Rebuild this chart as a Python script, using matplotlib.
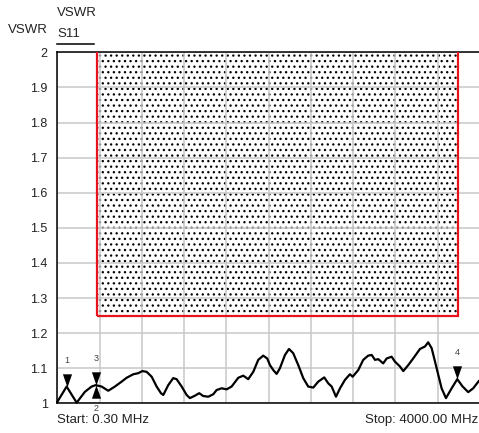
import numpy as np
import matplotlib
matplotlib.use("Agg")
import matplotlib.pyplot as plt
from matplotlib.patches import Rectangle
from matplotlib.transforms import offset_copy

plt.rcParams['font.family'] = ['Liberation Sans', 'DejaVu Sans']
plt.rcParams['hatch.linewidth'] = 0.9

# sweep, MHz
f_start = 0.3
f_stop = 4000.0

# S11 VSWR trace
freq = [0.3, 87, 182, 260, 324, 362, 418, 481, 544, 608, 655, 718, 765, 803,
        844, 892, 939, 980, 1002, 1049, 1096, 1128, 1176, 1223, 1254, 1302,
        1342, 1380, 1428, 1475, 1507, 1554, 1602, 1649, 1712, 1759, 1806,
        1854, 1901, 1948, 1986, 2012, 2043, 2075, 2106, 2154, 2192, 2232,
        2280, 2327, 2374, 2422, 2469, 2526, 2564, 2596, 2637, 2675, 2722,
        2769, 2795, 2848, 2895, 2942, 2975, 3006, 3037, 3084, 3117, 3164,
        3195, 3243, 3274, 3321, 3368, 3432, 3479, 3510, 3543, 3590, 3637,
        3678, 3732, 3785, 3836, 3889, 3936, 3990, 4000]
vswr = [1.005, 1.048, 1.002, 1.033, 1.048, 1.052, 1.048, 1.036, 1.048, 1.062,
        1.073, 1.083, 1.086, 1.092, 1.090, 1.076, 1.048, 1.029, 1.024, 1.052,
        1.072, 1.069, 1.048, 1.024, 1.015, 1.022, 1.029, 1.021, 1.019, 1.026,
        1.038, 1.043, 1.040, 1.048, 1.073, 1.079, 1.069, 1.090, 1.124, 1.136,
        1.128, 1.109, 1.095, 1.084, 1.100, 1.138, 1.155, 1.143, 1.109, 1.072,
        1.048, 1.045, 1.062, 1.074, 1.057, 1.048, 1.019, 1.043, 1.067, 1.083,
        1.076, 1.095, 1.124, 1.136, 1.138, 1.124, 1.126, 1.114, 1.128, 1.133,
        1.119, 1.105, 1.092, 1.109, 1.128, 1.155, 1.162, 1.174, 1.157, 1.100,
        1.043, 1.015, 1.043, 1.069, 1.048, 1.032, 1.043, 1.064, 1.066]

# limit mask
lim_lo = 372
lim_hi = 3790
lim_vswr = 1.25

# markers: number, freq, above/below
mk_num = ['1', '2', '3', '4']
mk_freq = [87, 365, 365, 3785]
mk_up = [True, False, True, True]

fig = plt.figure(figsize=(4.79, 4.33), dpi=100)
ax = fig.add_axes([0.12, 0.0684, 0.882, 0.8106])

ax.set_xlim(f_start, f_stop)
ax.set_ylim(1, 2)
ax.set_xticks(np.linspace(f_start, f_stop, 11))
ax.set_xticklabels([])
ax.set_yticks(np.arange(1, 2.01, 0.1))
ax.set_yticklabels(['%g' % round(v, 1) for v in np.arange(1, 2.01, 0.1)])
ax.tick_params(length=0, pad=7, labelsize=9, colors='#222222')
ax.grid(True, color='#c8c8c8', lw=1.1)
for s in ['left', 'top', 'bottom']:
    ax.spines[s].set_color('black')
    ax.spines[s].set_linewidth(1.1)
ax.spines['right'].set_visible(False)

# hatched mask + red outline
ax.add_patch(Rectangle((lim_lo, lim_vswr), lim_hi - lim_lo, 1.0,
                       facecolor='white', edgecolor='black', lw=0,
                       hatch='...', zorder=1))
ax.add_patch(Rectangle((lim_lo, lim_vswr), lim_hi - lim_lo, 1.0,
                       facecolor='none', edgecolor='#e8141c', lw=1.6,
                       zorder=3))

ax.plot(freq, vswr, color='black', lw=1.6, zorder=4, clip_on=False)

tri_dn = [(-4.5, 13), (4.5, 13), (0, 0)]
tri_up = [(-4.5, -13), (4.5, -13), (0, 0)]
for n, f, up in zip(mk_num, mk_freq, mk_up):
    v = np.interp(f, freq, vswr)
    ax.plot(f, v, marker=tri_dn if up else tri_up, ms=19, color='black',
            mec='none', zorder=5, clip_on=False)
    tr = offset_copy(ax.transData, fig=fig, x=0, y=19 if up else -17,
                     units='points')
    ax.text(f, v, n, transform=tr, ha='center', va='center', fontsize=6.5,
            color='#444444', clip_on=False)

fig.text(57 / 479, 1 - 13 / 433, 'VSWR', fontsize=9.5, ha='left', va='center',
         color='#222222')
fig.text(8 / 479, 1 - 30 / 433, 'VSWR', fontsize=9.5, ha='left', va='center',
         color='#222222')
fig.text(57 / 479, 1 - 34 / 433, 'S11', fontsize=9.5, ha='left', va='center',
         color='#222222')
fig.add_artist(plt.Line2D([57 / 479, 94 / 479], [1 - 43.5 / 433] * 2,
                          color='black', lw=1.1))
fig.text(57 / 479, 1 - 420 / 433, 'Start: 0.30 MHz', fontsize=9.5,
         ha='left', va='center', color='#222222')
fig.text(478 / 479, 1 - 420 / 433, 'Stop: 4000.00 MHz', fontsize=9.5,
         ha='right', va='center', color='#222222')

fig.savefig('out.png', dpi=100)
